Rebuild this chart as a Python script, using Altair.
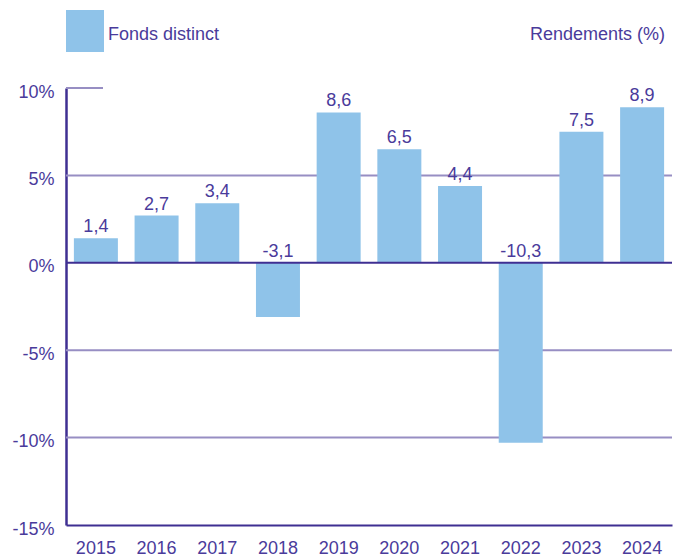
import altair as alt
import pandas as pd

years = ["2015", "2016", "2017", "2018", "2019", "2020", "2021", "2022", "2023", "2024"]
returns = [1.4, 2.7, 3.4, -3.1, 8.6, 6.5, 4.4, -10.3, 7.5, 8.9]
y_ticks = [-15, -10, -5, 0, 5, 10]
grid_values = [5, -5, -10]
legend_label = "Fonds distinct"
right_title = "Rendements (%)"

df = pd.DataFrame({"year": years, "ret": returns})
df["label"] = [f"{v:.1f}".replace(".", ",") for v in returns]
df["label_y"] = [max(v, 0) for v in returns]

TEXT = "#4A3B9B"
AXIS = "#3F2F92"
GRID = "#978EC3"
BAR = "#8FC3E9"
FONT = "Liberation Sans"

yscale = alt.Scale(domain=[-15, 10], nice=False)
xscale = alt.Scale(paddingInner=0.275, paddingOuter=0.13)

x_axis = alt.Axis(title=None, labelAngle=0, ticks=False, domainColor=AXIS, domainWidth=2,
                  labelPadding=14, labelFontSize=18, labelColor=TEXT, labelFont=FONT)
y_axis = alt.Axis(title=None, values=y_ticks, ticks=False, grid=False, domainColor=AXIS,
                  domainWidth=2.5, labelExpr="datum.value + '%'", labelFontSize=18,
                  labelColor=TEXT, labelFont=FONT, labelPadding=12, labelOffset=4)

grid = alt.Chart(pd.DataFrame({"g": grid_values})).mark_rule(color=GRID, strokeWidth=2).encode(
    y=alt.Y("g:Q", scale=yscale, axis=y_axis)
)
short10 = alt.Chart(pd.DataFrame({"g": [10]})).mark_rule(color=GRID, strokeWidth=2).encode(
    y=alt.Y("g:Q", scale=yscale, axis=y_axis), x=alt.value(0), x2=alt.value(37)
)

bars = alt.Chart(df).mark_bar(color=BAR, size=44).encode(
    x=alt.X("year:N", scale=xscale, sort=years, axis=x_axis),
    y=alt.Y("ret:Q", scale=yscale, axis=y_axis),
)

zero = alt.Chart(pd.DataFrame({"g": [0]})).mark_rule(color=AXIS, strokeWidth=2).encode(
    y=alt.Y("g:Q", scale=yscale, axis=y_axis)
)

labels = alt.Chart(df).mark_text(fontSize=18, font=FONT, color=TEXT, dy=-6, baseline="alphabetic").encode(
    x=alt.X("year:N", scale=xscale, sort=years, axis=x_axis),
    y=alt.Y("label_y:Q", scale=yscale, axis=y_axis),
    text="label:N",
)

leg_df = pd.DataFrame({"t": [legend_label], "r": [right_title]})
leg_rect = alt.Chart(leg_df).mark_rect(color=BAR).encode(
    x=alt.value(0), x2=alt.value(38), y=alt.value(-78), y2=alt.value(-36)
)
leg_text = alt.Chart(leg_df).mark_text(fontSize=18, font=FONT, color=TEXT, align="left", baseline="middle").encode(
    x=alt.value(42), y=alt.value(-53), text="t:N"
)
right_text = alt.Chart(leg_df).mark_text(fontSize=18, font=FONT, color=TEXT, align="right", baseline="middle").encode(
    x=alt.value(599), y=alt.value(-53), text="r:N"
)

chart = alt.layer(grid, short10, bars, zero, labels, leg_rect, leg_text, right_text).properties(
    width=606, height=437,
    autosize=alt.AutoSizeParams(type="none"),
    padding={"left": 58, "top": 80, "right": 3, "bottom": 32},
).configure_view(stroke=None)

chart.save("out.html", embed_options={"renderer": "svg", "actions": False})
